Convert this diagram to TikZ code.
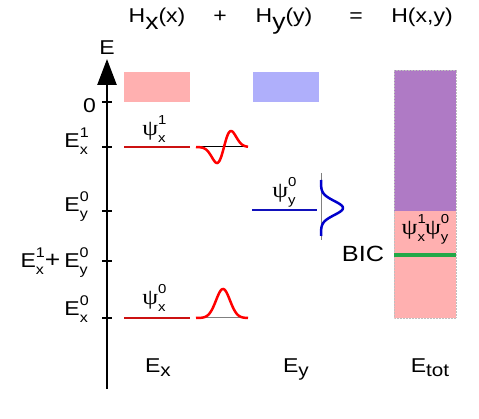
\documentclass[tikz,border=0pt]{standalone}
\usepackage{fontspec}
\setmainfont{Liberation Sans}[FakeStretch=1.15]
\newfontfamily\psifont{Liberation Serif}[FakeStretch=1.15]
\usetikzlibrary{arrows.meta}

\definecolor{bandpink}{HTML}{FFB0B0}
\definecolor{bandblue}{HTML}{AFAFFB}
\definecolor{bandpurple}{HTML}{AF7AC5}
\definecolor{bicgreen}{HTML}{22A848}
\definecolor{levred}{HTML}{CC1111}
\definecolor{levblue}{HTML}{1111BB}

\newcommand\smallfs{\fontsize{14}{14}\selectfont}
\newcommand\psifs{\fontsize{13}{13}\selectfont}
\newcommand\bigsub{\fontsize{23}{23}\selectfont}
\newcommand\lev[3]{#1\rlap{\raisebox{10pt}{\smallfs #3}}\raisebox{-7pt}{\smallfs #2}}
\newcommand\wf[2]{{\psifont ψ}\rlap{\raisebox{11pt}{\psifs #2}}\raisebox{-7pt}{\psifs #1}}
\newcommand\botlab[2]{#1\raisebox{-4pt}{\fontsize{18}{18}\selectfont #2}}

\begin{document}
\begin{tikzpicture}[
    x=1pt, y=1pt,
    font=\fontsize{20}{24}\selectfont,
    tick/.style={line width=1.5pt},
    level/.style={line width=2pt},
    wave/.style={line width=2.5pt, smooth},
    lbl/.style={inner sep=0pt, anchor=base east},
    psilbl/.style={inner sep=0pt, anchor=south, font=\fontsize{22}{22}\selectfont},
    title/.style={inner sep=0pt, anchor=base}
]
    \useasboundingbox (0,0) rectangle (479,-419);

    % Coordinates
    \coordinate (axis_bot) at (107,-389);
    \coordinate (axis_top) at (107,-59);
    \coordinate (tick_zero) at (107,-102);
    \coordinate (tick_ex1) at (107,-147);
    \coordinate (tick_ey0) at (107,-211);
    \coordinate (tick_sum) at (107,-261);
    \coordinate (tick_ex0) at (107,-318);

    \coordinate (ex1_l) at (124,-147);
    \coordinate (ex1_r) at (190,-147);
    \coordinate (ex0_l) at (124,-318);
    \coordinate (ex0_r) at (190,-318);
    \coordinate (ey0_l) at (252,-210);
    \coordinate (ey0_r) at (317,-210);
    \coordinate (bic_l) at (394,-255);
    \coordinate (bic_r) at (456,-255);

    % Title
    \node[title] (hx) at (157,-23) {H\raisebox{-7pt}{\bigsub x}(x)};
    \node[title] (plus) at (220,-23) {+};
    \node[title] (hy) at (284,-23) {H\raisebox{-7pt}{\bigsub y}(y)};
    \node[title] (eq) at (356,-23) {=};
    \node[title] (hxy) at (422,-23) {H(x,y)};

    % Energy axis
    \draw[line width=2.5pt, -{Triangle[length=26pt, width=19pt]}] (axis_bot) -- (axis_top);
    \node[title] (elab) at (107,-55) {E};
    \foreach \t in {zero, ex1, ey0, sum, ex0}
        \draw[tick] ([xshift=-5pt]tick_\t) -- ([xshift=5pt]tick_\t);

    \node[lbl] (lab_zero) at (96,-113) {0};
    \node[lbl] (lab_ex1) at (88,-148) {\lev{E}{x}{1}};
    \node[lbl] (lab_ey0) at (88,-212) {\lev{E}{y}{0}};
    \node[lbl] (lab_sum) at (88,-268)
        {\lev{E}{x}{1}\hspace{1pt}{\fontsize{23}{23}\selectfont +}\hspace{4pt}\lev{E}{y}{0}};
    \node[lbl] (lab_ex0) at (88,-316) {\lev{E}{x}{0}};

    % Continuum bands
    \fill[bandpink] (124,-72) rectangle (190,-102);
    \fill[bandblue] (253,-72) rectangle (319,-102);
    \fill[bandpurple] (394,-70) rectangle (456,-211);
    \fill[bandpink] (394,-211) rectangle (456,-318);
    \draw[gray!50, densely dotted, line width=0.5pt] (394,-70) rectangle (456,-318);

    % Bound levels
    \draw[level, levred] (ex1_l) -- (ex1_r);
    \draw[level, levred] (ex0_l) -- (ex0_r);
    \draw[level, levblue] (ey0_l) -- (ey0_r);
    \draw[line width=3.5pt, bicgreen] (bic_l) -- (bic_r);

    \node[psilbl] (psi_x1) at (154,-143) {\wf{x}{1}};
    \node[psilbl] (psi_x0) at (154,-312) {\wf{x}{0}};
    \node[psilbl] (psi_y0) at (284,-207) {\wf{y}{0}};
    \node[psilbl] (psi_xy) at (425,-244) {\wf{x}{1}\wf{y}{0}};
    \node (bic) at (363,-253.5) {\fontsize{22}{22}\selectfont BIC};

    % Wavefunctions
    \draw[line width=1pt, black] (196,-147) -- (248,-147);
    \draw[wave, red] plot[domain=196:248, samples=70]
        (\x, {-147 + 26.4*((\x-224)/7)*exp(-0.5*((\x-224)/7)^2)});
    \draw[line width=1pt, gray] (196,-318) -- (248,-318);
    \draw[wave, red] plot[domain=196:248, samples=70]
        (\x, {-318 + 29*exp(-0.5*((\x-223)/7)^2)});
    \draw[line width=1pt, gray] (321,-173) -- (321,-240);
    \draw[wave, blue!80!black] plot[domain=180:236, samples=70]
        ({321 + 22*exp(-0.5*((\x-208)/7)^2)}, {-\x});

    % Bottom labels
    \node[title] (lab_x) at (158,-373) {\botlab{E}{x}};
    \node[title] (lab_y) at (296,-373) {\botlab{E}{y}};
    \node[title] (lab_tot) at (430,-373) {\botlab{E}{tot}};

\end{tikzpicture}
\end{document}
